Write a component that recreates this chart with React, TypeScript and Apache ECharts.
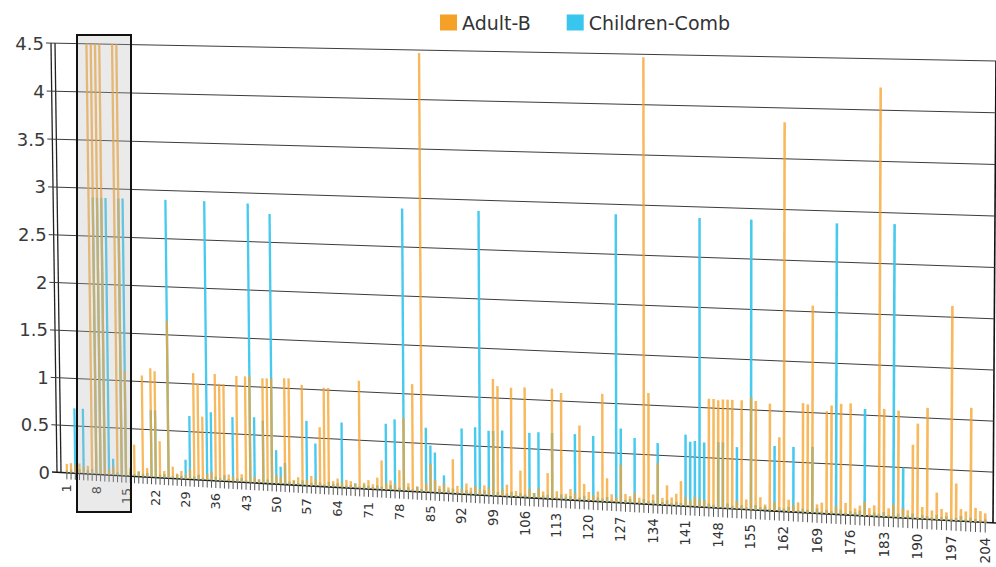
import React, { useEffect, useRef } from "react";
import * as echarts from "echarts";

// ---------------- data ----------------
const categories: string[] = Array.from({ length: 204 }, (_, i) => String(i + 1));

const xTickLabels: string[] = [
  "1", "8", "15", "22", "29", "36", "43", "50", "57", "64", "71", "78", "85", "92", "99",
  "106", "113", "120", "127", "134", "141", "148", "155", "162", "169", "176", "183", "190", "197", "204",
];

const yTickValues: number[] = [0, 0.5, 1, 1.5, 2, 2.5, 3, 3.5, 4, 4.5];

const adultB: number[] = [
  0.09, 0.1, 0.08, 0.1, 0.07, 0.08, 4.5, 4.5, 4.5, 4.5,
  0.06, 0.09, 4.5, 4.5, 1.1, 0.08, 0.33, 0.05, 1.06, 0.09,
  1.14, 1.11, 0.38, 0.07, 1.64, 0.12, 0.05, 0.08, 0.04, 0.1,
  1.11, 1.0, 0.66, 0.06, 0.09, 1.11, 1.01, 1.01, 0.07, 0.05,
  1.1, 0.08, 1.1, 1.1, 0.06, 0.04, 1.09, 1.09, 1.09, 0.09,
  0.07, 1.1, 1.1, 0.05, 0.08, 1.04, 0.06, 0.1, 0.07, 0.61,
  1.02, 1.02, 0.06, 0.09, 0.05, 0.08, 0.07, 0.04, 1.11, 0.06,
  0.09, 0.05, 0.12, 0.3, 0.07, 0.1, 0.06, 0.21, 0.75, 0.08,
  1.1, 0.05, 4.47, 0.09, 0.29, 0.13, 0.07, 0.1, 0.06, 0.35,
  0.08, 0.05, 0.11, 0.07, 0.09, 0.06, 0.1, 0.08, 1.19, 1.12,
  0.07, 0.12, 1.11, 0.06, 0.27, 1.12, 0.09, 0.05, 0.1, 0.07,
  0.26, 1.12, 0.08, 1.08, 0.06, 0.11, 0.07, 0.76, 0.17, 0.09,
  0.06, 0.1, 1.09, 0.24, 0.08, 0.05, 0.38, 0.09, 0.07, 0.11,
  0.06, 4.47, 1.12, 0.1, 0.42, 0.07, 0.2, 0.08, 0.12, 0.25,
  0.09, 0.06, 0.1, 0.08, 0.07, 1.09, 1.09, 1.08, 1.09, 1.09,
  1.09, 0.08, 1.09, 0.1, 1.12, 1.09, 0.13, 0.06, 1.07, 0.09,
  0.74, 3.86, 0.12, 0.07, 0.1, 1.09, 1.08, 2.06, 0.09, 0.11,
  1.02, 1.08, 0.08, 1.1, 0.12, 1.11, 0.07, 0.1, 0.14, 0.08,
  0.11, 4.22, 1.07, 0.09, 0.13, 1.06, 0.1, 0.08, 0.73, 0.94,
  0.12, 1.1, 0.09, 0.27, 0.11, 0.08, 2.11, 0.37, 0.12, 0.1,
  1.12, 0.14, 0.11, 0.09,
];

const childrenComb: number[] = [
  0.02, 0.03, 0.68, 0.04, 0.68, 0.04, 0.05, 2.9, 2.9, 2.9,
  2.9, 0.17, 0.03, 2.9, 2.9, 0.04, 0.02, 0.05, 0.03, 0.04,
  0.7, 0.7, 0.03, 0.04, 2.9, 0.02, 0.04, 0.03, 0.2, 0.66,
  0.03, 0.05, 0.02, 2.9, 0.71, 0.04, 0.03, 0.06, 0.02, 0.67,
  0.03, 0.04, 0.02, 2.89, 0.68, 0.03, 0.65, 0.04, 2.79, 0.35,
  0.18, 0.22, 0.03, 0.04, 0.02, 0.05, 0.67, 0.03, 0.44, 0.04,
  0.02, 0.05, 0.03, 0.04, 0.67, 0.02, 0.03, 0.05, 0.02, 0.04,
  0.03, 0.02, 0.04, 0.03, 0.68, 0.05, 0.73, 0.03, 2.89, 0.04,
  0.02, 0.05, 0.03, 0.66, 0.48, 0.41, 0.04, 0.18, 0.03, 0.05,
  0.02, 0.67, 0.04, 0.03, 0.69, 2.89, 0.05, 0.66, 0.66, 0.04,
  0.67, 0.03, 0.05, 0.02, 0.04, 0.03, 0.66, 0.05, 0.67, 0.03,
  0.04, 0.67, 0.02, 0.05, 0.03, 0.04, 0.67, 0.03, 0.05, 0.02,
  0.66, 0.04, 0.03, 0.05, 0.02, 2.9, 0.75, 0.03, 0.04, 0.66,
  0.02, 0.05, 0.03, 0.04, 0.62, 0.03, 0.05, 0.02, 0.04, 0.03,
  0.72, 0.65, 0.66, 2.89, 0.65, 0.04, 0.03, 0.66, 0.66, 0.05,
  0.03, 0.62, 0.04, 0.02, 2.89, 0.05, 0.03, 0.04, 0.02, 0.65,
  0.04, 0.03, 0.05, 0.65, 0.02, 0.04, 0.03, 0.66, 0.05, 0.02,
  0.04, 0.03, 2.88, 0.05, 0.02, 0.04, 0.03, 0.05, 1.06, 0.02,
  0.04, 0.03, 0.05, 0.02, 2.89, 0.04, 0.5, 0.03, 0.05, 0.02,
  0.04, 0.03, 0.02, 0.05, 0.03, 0.04, 0.02, 0.03, 0.05, 0.02,
  0.04, 0.03, 0.02, 0.03,
];

// ---------------- styling / perspective ----------------
const ORANGE = "#F5A128";
const CYAN = "#38C5EE";
const Y_MAX = 4.5;
const FONT = '"DejaVu Sans", Verdana, sans-serif';

// screen quad of the (tilted) plot plane
const QUAD = { tl: [55, 43], tr: [996, 61], br: [993, 523], bl: [61, 472] };
const PAD_L = 0.9; // in category bands
const PAD_R = 1.1;

function makeQuadMap(q: any) {
  const [x0, y0] = q.tl, [x1, y1] = q.tr, [x2, y2] = q.br, [x3, y3] = q.bl;
  const dx1 = x1 - x2, dx2 = x3 - x2, dx3 = x0 - x1 + x2 - x3;
  const dy1 = y1 - y2, dy2 = y3 - y2, dy3 = y0 - y1 + y2 - y3;
  const den = dx1 * dy2 - dx2 * dy1;
  const g = (dx3 * dy2 - dx2 * dy3) / den;
  const h = (dx1 * dy3 - dx3 * dy1) / den;
  const a = x1 - x0 + g * x1, b = x3 - x0 + h * x3, c = x0;
  const d = y1 - y0 + g * y1, e = y3 - y0 + h * y3, f = y0;
  return (u: number, v: number) => {
    const w = g * u + h * v + 1;
    return [(a * u + b * v + c) / w, (d * u + e * v + f) / w];
  };
}
const quadMap = makeQuadMap(QUAD);

function projector(cs: any) {
  const band = cs.width / categories.length;
  const fx0 = cs.x - PAD_L * band;
  const fx1 = cs.x + cs.width + PAD_R * band;
  const fy0 = cs.y, fy1 = cs.y + cs.height;
  const uOf = (px: number) => (px - fx0) / (fx1 - fx0);
  const proj = (px: number, py: number) => quadMap(uOf(px), (py - fy0) / (fy1 - fy0));
  return { band, proj, fx0, fx1, uOf };
}

const makeBarRender = (color: string, opacity: number) => (params: any, api: any) => {
  const { band, proj } = projector(params.coordSys);
  const i = api.value(0);
  const v = Math.min(api.value(1), Y_MAX);
  const b = api.coord([i, 0]);
  const t = api.coord([i, v]);
  const hw = band * 0.27;
  const pts = [
    proj(b[0] - hw, b[1]),
    proj(b[0] + hw, b[1]),
    proj(t[0] + hw, t[1]),
    proj(t[0] - hw, t[1]),
  ];
  return { type: "polygon", shape: { points: pts }, style: { fill: color, opacity } };
};

const gridRender = (params: any, api: any) => {
  const { proj, fx0, fx1 } = projector(params.coordSys);
  const v = api.value(1);
  const y = api.coord([0, v])[1];
  const L = proj(fx0, y);
  const R = proj(fx1, y);
  const children: any[] = [
    {
      type: "line",
      shape: { x1: L[0] - 9, y1: L[1], x2: v === 0 ? R[0] + 3 : R[0], y2: R[1] },
      style: { stroke: v === 0 ? "#1a1a1a" : "#3c3c3c", lineWidth: v === 0 ? 1.6 : 1 },
    },
    {
      type: "text",
      x: L[0] - 11,
      y: L[1],
      style: {
        text: String(v),
        fill: "#3a3a3a",
        font: `18px ${FONT}`,
        align: "right",
        verticalAlign: "middle",
      },
    },
  ];
  if (v === 0) {
    const yTop = api.coord([0, Y_MAX])[1];
    const LT = proj(fx0, yTop);
    const RT = proj(fx1, yTop);
    children.push(
      { type: "line", shape: { x1: LT[0], y1: LT[1], x2: L[0], y2: L[1] }, style: { stroke: "#222", lineWidth: 1.3 } },
      { type: "line", shape: { x1: LT[0] - 4, y1: LT[1], x2: L[0] - 4, y2: L[1] }, style: { stroke: "#222", lineWidth: 1.3 } },
      { type: "line", shape: { x1: RT[0], y1: RT[1], x2: R[0], y2: R[1] }, style: { stroke: "#111", lineWidth: 1.6 } }
    );
  }
  return { type: "group", children };
};

const xAxisRender = (params: any, api: any) => {
  const { proj, uOf } = projector(params.coordSys);
  const i = api.value(0);
  const p = api.coord([i, 0]);
  const P = proj(p[0], p[1]);
  const u = uOf(p[0]);
  const children: any[] = [
    {
      type: "line",
      shape: { x1: P[0], y1: P[1], x2: P[0], y2: P[1] + 7 + 3 * u },
      style: { stroke: "#555", lineWidth: 1 },
    },
  ];
  const label = categories[i];
  if (xTickLabels.indexOf(label) >= 0) {
    children.push({
      type: "text",
      x: P[0],
      y: P[1] + 12 + 3 * u,
      rotation: Math.PI / 2,
      style: {
        text: label,
        fill: "#333",
        font: `${(12.8 + 0.8 * u).toFixed(1)}px ${FONT}`,
        align: "right",
        verticalAlign: "middle",
      },
    });
  }
  return { type: "group", children };
};

export default function App() {
  const ref = useRef<HTMLDivElement>(null);

  useEffect(() => {
    if (!ref.current) return;
    const chart = echarts.init(ref.current, undefined, { renderer: "svg" });
    chart.setOption({
      animation: false,
      backgroundColor: "#ffffff",
      legend: {
        data: [
          { name: "Adult-B", icon: "rect" },
          { name: "Children-Comb", icon: "rect" },
        ],
        left: 435,
        top: 8,
        itemWidth: 17,
        itemHeight: 16,
        itemGap: 36,
        textStyle: { fontFamily: FONT, fontSize: 19, color: "#333" },
      },
      grid: { left: 60, right: 10, top: 43, bottom: 95 },
      xAxis: { type: "category", data: categories, show: false },
      yAxis: { type: "value", min: 0, max: Y_MAX, interval: 0.5, show: false },
      graphic: [
        {
          type: "rect",
          z: 50,
          shape: { x: 77, y: 35, width: 54, height: 477 },
          style: { fill: "rgba(180,180,180,0.28)", stroke: "#111", lineWidth: 2 },
        },
      ],
      series: [
        {
          name: "gridlines",
          type: "custom",
          z: 1,
          clip: false,
          silent: true,
          data: yTickValues.map((v) => [0, v]),
          renderItem: gridRender,
        },
        {
          name: "xaxis",
          type: "custom",
          z: 1,
          clip: false,
          silent: true,
          data: categories.map((_, i) => [i, 0]),
          renderItem: xAxisRender,
        },
        {
          name: "Children-Comb",
          type: "custom",
          z: 3,
          clip: false,
          itemStyle: { color: CYAN },
          data: childrenComb.map((v, i) => [i, v]),
          renderItem: makeBarRender(CYAN, 0.92),
        },
        {
          name: "Adult-B",
          type: "custom",
          z: 4,
          clip: false,
          itemStyle: { color: ORANGE },
          data: adultB.map((v, i) => [i, v]),
          renderItem: makeBarRender(ORANGE, 0.75),
        },
      ],
    });
    return () => chart.dispose();
  }, []);

  return (
    <div
      ref={ref}
      style={{ position: "fixed", left: 0, top: 0, width: 996, height: 567, background: "#fff" }}
    />
  );
}
